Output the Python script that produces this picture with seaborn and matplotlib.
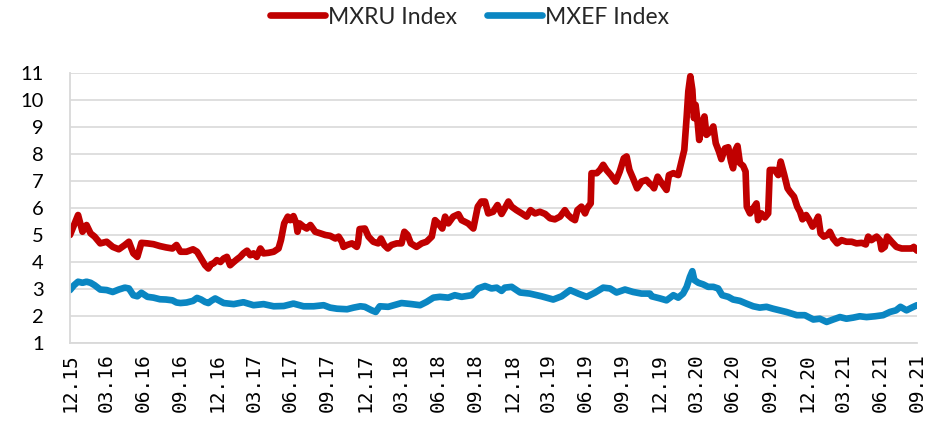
import matplotlib
matplotlib.use("Agg")
import matplotlib.pyplot as plt
import matplotlib.dates as mdates
import pandas as pd
import seaborn as sns

# MXRU Index observations
ru_dates = [
    "2015-12-31", "2016-01-10", "2016-01-20", "2016-01-31", "2016-02-10", "2016-02-20",
    "2016-03-01", "2016-03-15", "2016-03-31", "2016-04-15", "2016-04-30", "2016-05-15",
    "2016-05-25", "2016-06-05", "2016-06-15", "2016-06-25", "2016-07-10", "2016-07-25",
    "2016-08-10", "2016-08-25", "2016-09-10", "2016-09-20", "2016-09-30", "2016-10-15",
    "2016-10-31", "2016-11-10", "2016-11-20", "2016-11-30", "2016-12-08", "2016-12-15",
    "2016-12-21", "2016-12-29", "2017-01-07", "2017-01-15", "2017-01-23", "2017-01-31",
    "2017-02-09", "2017-02-17", "2017-02-25", "2017-03-05", "2017-03-14", "2017-03-22",
    "2017-03-30", "2017-04-07", "2017-04-16", "2017-04-24", "2017-05-06", "2017-05-19",
    "2017-05-31", "2017-06-06", "2017-06-14", "2017-06-23", "2017-06-29", "2017-07-07",
    "2017-07-14", "2017-07-17", "2017-07-22", "2017-08-01", "2017-08-09", "2017-08-18",
    "2017-08-30", "2017-09-12", "2017-09-24", "2017-10-06", "2017-10-19", "2017-10-27",
    "2017-11-04", "2017-11-08", "2017-11-17", "2017-11-29", "2017-12-11", "2017-12-14",
    "2017-12-18", "2017-12-31", "2018-01-09", "2018-01-21", "2018-02-02", "2018-02-09",
    "2018-02-17", "2018-02-26", "2018-03-07", "2018-03-20", "2018-04-01", "2018-04-08",
    "2018-04-16", "2018-04-24", "2018-05-08", "2018-05-21", "2018-06-02", "2018-06-15",
    "2018-06-23", "2018-07-01", "2018-07-11", "2018-07-18", "2018-07-26", "2018-08-07",
    "2018-08-20", "2018-08-28", "2018-09-13", "2018-09-26", "2018-10-07", "2018-10-16",
    "2018-10-25", "2018-11-02", "2018-11-14", "2018-11-25", "2018-12-05", "2018-12-13",
    "2018-12-22", "2018-12-30", "2019-01-11", "2019-01-24", "2019-02-05", "2019-02-15",
    "2019-02-26", "2019-03-10", "2019-03-23", "2019-04-04", "2019-04-16", "2019-04-29",
    "2019-05-11", "2019-05-19", "2019-05-28", "2019-06-05", "2019-06-11", "2019-06-21",
    "2019-06-30", "2019-07-05", "2019-07-14", "2019-07-16", "2019-07-29", "2019-08-06",
    "2019-08-14", "2019-08-22", "2019-09-02", "2019-09-14", "2019-09-24", "2019-10-04",
    "2019-10-11", "2019-10-18", "2019-10-27", "2019-11-06", "2019-11-17", "2019-11-29",
    "2019-12-08", "2019-12-12", "2019-12-18", "2019-12-27", "2020-01-06", "2020-01-18",
    "2020-01-24", "2020-02-04", "2020-02-16", "2020-02-23", "2020-03-02", "2020-03-08",
    "2020-03-12", "2020-03-17", "2020-03-22", "2020-03-26", "2020-03-30", "2020-04-04",
    "2020-04-08", "2020-04-14", "2020-04-21", "2020-04-26", "2020-05-05", "2020-05-13",
    "2020-05-19", "2020-05-27", "2020-06-02", "2020-06-11", "2020-06-19", "2020-06-26",
    "2020-07-01", "2020-07-07", "2020-07-12", "2020-07-18", "2020-07-26", "2020-08-01",
    "2020-08-04", "2020-08-12", "2020-08-20", "2020-08-28", "2020-09-01", "2020-09-09",
    "2020-09-18", "2020-09-26", "2020-09-30", "2020-10-12", "2020-10-21", "2020-10-27",
    "2020-11-05", "2020-11-13", "2020-11-19", "2020-11-29", "2020-12-07", "2020-12-14",
    "2020-12-20", "2020-12-29", "2021-01-06", "2021-01-14", "2021-01-22", "2021-01-28",
    "2021-02-03", "2021-02-11", "2021-02-20", "2021-02-26", "2021-03-06", "2021-03-16",
    "2021-03-27", "2021-04-08", "2021-04-21", "2021-05-03", "2021-05-16", "2021-05-26",
    "2021-06-01", "2021-06-09", "2021-06-22", "2021-06-30", "2021-07-04", "2021-07-12",
    "2021-07-18", "2021-07-29", "2021-08-10", "2021-08-23", "2021-09-04", "2021-09-17",
    "2021-09-22", "2021-09-30",
]
ru_values = [
    5.00, 5.37, 5.74, 5.12, 5.37, 5.06,
    4.94, 4.69, 4.75, 4.56, 4.47, 4.63,
    4.75, 4.32, 4.19, 4.71, 4.69, 4.66,
    4.59, 4.54, 4.50, 4.63, 4.38, 4.38,
    4.47, 4.38, 4.13, 3.88, 3.76, 3.92,
    3.95, 4.07, 4.00, 4.13, 4.19, 3.88,
    4.00, 4.10, 4.19, 4.32, 4.42, 4.25,
    4.32, 4.19, 4.50, 4.32, 4.34, 4.38,
    4.50, 4.81, 5.43, 5.68, 5.55, 5.70,
    5.43, 5.12, 5.43, 5.31, 5.24, 5.37,
    5.12, 5.06, 5.00, 4.97, 4.87, 4.94,
    4.75, 4.56, 4.63, 4.69, 4.56, 4.70,
    5.22, 5.24, 4.94, 4.75, 4.69, 4.87,
    4.63, 4.50, 4.63, 4.69, 4.69, 5.12,
    5.00, 4.69, 4.56, 4.69, 4.75, 4.94,
    5.55, 5.43, 5.24, 5.68, 5.43, 5.68,
    5.77, 5.55, 5.43, 5.24, 6.05, 6.24,
    6.24, 5.80, 5.86, 6.11, 5.78, 5.99,
    6.24, 6.05, 5.92, 5.80, 5.68, 5.92,
    5.80, 5.86, 5.78, 5.62, 5.58, 5.68,
    5.92, 5.74, 5.62, 5.55, 5.92, 6.05,
    5.80, 5.99, 6.17, 7.29, 7.29, 7.41,
    7.60, 7.41, 7.22, 6.98, 7.35, 7.84,
    7.91, 7.41, 7.10, 6.73, 6.98, 7.04,
    6.89, 6.85, 6.73, 7.16, 6.92, 6.67,
    7.22, 7.29, 7.22, 7.66, 8.15, 9.39,
    10.32, 10.88, 10.38, 9.33, 9.82, 9.20,
    8.52, 9.08, 9.39, 8.71, 8.83, 9.02,
    8.40, 8.09, 7.81, 8.21, 8.25, 7.72,
    7.47, 8.15, 8.30, 7.66, 7.56, 7.35,
    6.05, 5.80, 5.99, 6.17, 5.55, 5.80,
    5.65, 5.80, 7.41, 7.41, 7.22, 7.72,
    7.22, 6.73, 6.60, 6.42, 6.05, 5.86,
    5.58, 5.74, 5.55, 5.31, 5.49, 5.68,
    5.06, 4.94, 5.00, 5.12, 4.87, 4.69,
    4.81, 4.75, 4.75, 4.69, 4.71, 4.65,
    4.94, 4.81, 4.94, 4.81, 4.47, 4.56,
    4.94, 4.75, 4.56, 4.50, 4.50, 4.50,
    4.56, 4.42,
]

# MXEF Index observations
ef_dates = [
    "2015-12-31", "2016-01-10", "2016-01-20", "2016-01-31", "2016-02-10", "2016-02-20",
    "2016-03-01", "2016-03-15", "2016-03-31", "2016-04-15", "2016-04-30", "2016-05-15",
    "2016-05-25", "2016-06-05", "2016-06-15", "2016-06-25", "2016-07-10", "2016-07-25",
    "2016-08-10", "2016-08-25", "2016-09-10", "2016-09-20", "2016-09-30", "2016-10-15",
    "2016-10-31", "2016-11-10", "2016-11-20", "2016-11-30", "2016-12-08", "2016-12-15",
    "2016-12-25", "2017-01-15", "2017-02-09", "2017-03-05", "2017-03-30", "2017-04-24",
    "2017-05-19", "2017-06-13", "2017-07-07", "2017-08-01", "2017-08-26", "2017-09-20",
    "2017-10-06", "2017-10-23", "2017-11-17", "2017-12-03", "2017-12-20", "2017-12-31",
    "2018-01-17", "2018-01-27", "2018-02-06", "2018-02-27", "2018-04-01", "2018-04-26",
    "2018-05-17", "2018-06-02", "2018-06-19", "2018-07-05", "2018-07-26", "2018-08-11",
    "2018-08-28", "2018-09-22", "2018-10-08", "2018-10-25", "2018-11-10", "2018-11-23",
    "2018-12-05", "2018-12-13", "2018-12-30", "2019-01-20", "2019-02-13", "2019-03-14",
    "2019-04-12", "2019-05-03", "2019-05-24", "2019-06-13", "2019-07-04", "2019-07-24",
    "2019-08-14", "2019-08-31", "2019-09-16", "2019-10-07", "2019-10-27", "2019-11-17",
    "2019-12-08", "2019-12-12", "2020-01-02", "2020-01-18", "2020-02-04", "2020-02-16",
    "2020-02-28", "2020-03-08", "2020-03-16", "2020-03-22", "2020-03-27", "2020-04-06",
    "2020-04-18", "2020-04-30", "2020-05-13", "2020-05-25", "2020-06-04", "2020-06-19",
    "2020-07-01", "2020-07-18", "2020-08-03", "2020-08-20", "2020-09-05", "2020-09-22",
    "2020-10-08", "2020-10-25", "2020-11-10", "2020-12-06", "2020-12-26", "2021-01-16",
    "2021-02-01", "2021-02-18", "2021-03-06", "2021-03-23", "2021-04-08", "2021-04-25",
    "2021-05-11", "2021-05-28", "2021-06-18", "2021-07-08", "2021-07-25", "2021-08-09",
    "2021-08-20", "2021-09-04", "2021-09-17", "2021-09-30",
]
ef_values = [
    2.96, 3.14, 3.27, 3.23, 3.27, 3.23,
    3.14, 2.98, 2.96, 2.89, 2.98, 3.05,
    3.02, 2.77, 2.73, 2.86, 2.71, 2.68,
    2.62, 2.61, 2.58, 2.50, 2.48, 2.50,
    2.56, 2.67, 2.61, 2.52, 2.48, 2.56,
    2.65, 2.48, 2.44, 2.51, 2.40, 2.44,
    2.36, 2.37, 2.46, 2.36, 2.36, 2.40,
    2.31, 2.27, 2.25, 2.31, 2.36, 2.34,
    2.21, 2.15, 2.36, 2.34, 2.48, 2.44,
    2.40, 2.52, 2.68, 2.71, 2.68, 2.77,
    2.71, 2.77, 3.02, 3.11, 3.02, 3.05,
    2.93, 3.05, 3.08, 2.87, 2.83, 2.73,
    2.61, 2.73, 2.96, 2.83, 2.71, 2.86,
    3.05, 3.02, 2.87, 2.98, 2.89, 2.83,
    2.83, 2.73, 2.65, 2.58, 2.77, 2.68,
    2.83, 3.08, 3.45, 3.66, 3.33, 3.23,
    3.17, 3.08, 3.08, 3.02, 2.77, 2.71,
    2.61, 2.56, 2.46, 2.36, 2.31, 2.34,
    2.27, 2.21, 2.15, 2.03, 2.03, 1.87,
    1.90, 1.78, 1.87, 1.96, 1.90, 1.94,
    1.99, 1.96, 1.99, 2.03, 2.15, 2.21,
    2.34, 2.21, 2.31, 2.40,
]

y_ticks = list(range(1, 12))
x_start, x_end = "2015-12-31", "2021-09-30"

series_names = ["MXRU Index", "MXEF Index"]
series_colors = ["#C00000", "#0A86C2"]

ru = pd.DataFrame({"date": pd.to_datetime(ru_dates), "value": ru_values})
ef = pd.DataFrame({"date": pd.to_datetime(ef_dates), "value": ef_values})

sns.set_style("white")
plt.rcParams["font.family"] = ["Lato", "DejaVu Sans"]

fig = plt.figure(figsize=(9.47, 4.21), dpi=100)
ax = fig.add_axes([70 / 947, 78 / 421, 847 / 947, 270 / 421])

line_kw = dict(linewidth=4.8, solid_capstyle="round", solid_joinstyle="round",
               estimator=None, sort=False)
sns.lineplot(data=ru, x="date", y="value", ax=ax, color=series_colors[0],
             label=series_names[0], **line_kw)
sns.lineplot(data=ef, x="date", y="value", ax=ax, color=series_colors[1],
             label=series_names[1], **line_kw)

grid_c = "#D9D9D9"
ax.set_ylim(1, 11)
ax.set_yticks(y_ticks)
ax.yaxis.grid(True, color=grid_c, linewidth=1.2)
ax.xaxis.grid(False)
ax.set_axisbelow(True)

ax.set_xlim(pd.Timestamp(x_start), pd.Timestamp(x_end))
quarter_ticks = pd.date_range(x_start, x_end, freq="QE")
ax.set_xticks(quarter_ticks)
ax.xaxis.set_major_formatter(mdates.DateFormatter("%m.%y"))

for side in ("top", "right"):
    ax.spines[side].set_visible(False)
for side in ("left", "bottom"):
    ax.spines[side].set_color(grid_c)
    ax.spines[side].set_linewidth(1.3)

ax.tick_params(axis="y", length=0, pad=19, labelsize=14.5, labelcolor="#000000")
ax.tick_params(axis="x", length=5.5, width=1.2, color=grid_c, pad=2, labelsize=14,
               labelcolor="#000000", labelrotation=90)
for lab in ax.get_xticklabels():
    lab.set_fontfamily(["DejaVu Sans Mono"])
ax.set_xlabel("")
ax.set_ylabel("")

handles, labels = ax.get_legend_handles_labels()
ax.get_legend().remove()
fig.legend(handles, labels, loc="center", bbox_to_anchor=(469.5 / 947, 1 - 17 / 421),
           ncol=2, frameon=False, fontsize=16.5, handlelength=2.4, handletextpad=0.15,
           columnspacing=1.3, borderpad=0)

fig.savefig("out.png", dpi=100)
